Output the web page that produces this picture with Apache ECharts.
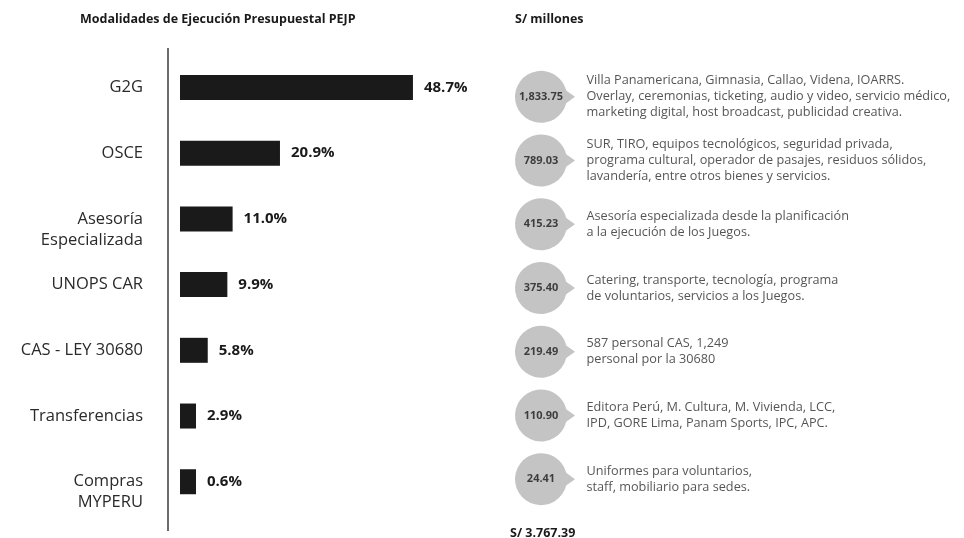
<!DOCTYPE html>
<html>
<head>
<meta charset="utf-8">
<script src="https://cdn.jsdelivr.net/npm/echarts@6/dist/echarts.min.js"></script>
<style>
  html, body { margin: 0; padding: 0; background: #fff; }
  #chart { width: 964px; height: 538px; }
</style>
</head>
<body>
<div id="chart"></div>
<script>
// values
const categories = ['G2G', 'OSCE', 'Asesoría\nEspecializada', 'UNOPS CAR', 'CAS - LEY 30680', 'Transferencias', 'Compras\nMYPERU']
const shares = [48.7, 20.9, 11.0, 9.9, 5.8, 2.9, 0.6]
const amounts = [1833.75, 789.03, 415.23, 375.40, 219.49, 110.90, 24.41]
const details = [
  'Villa Panamericana, Gimnasia, Callao, Videna, IOARRS.\nOverlay, ceremonias, ticketing, audio y video, servicio médico,\nmarketing digital, host broadcast, publicidad creativa.',
  'SUR, TIRO, equipos tecnológicos, seguridad privada,\nprograma cultural, operador de pasajes, residuos sólidos,\nlavandería, entre otros bienes y servicios.',
  'Asesoría especializada desde la planificación\na la ejecución de los Juegos.',
  'Catering, transporte, tecnología, programa\nde voluntarios, servicios a los Juegos.',
  '587 personal CAS, 1,249\npersonal por la 30680',
  'Editora Perú, M. Cultura, M. Vivienda, LCC,\nIPD, GORE Lima, Panam Sports, IPC, APC.',
  'Uniformes para voluntarios,\nstaff, mobiliario para sedes.'
]
const leftTitle = 'Modalidades de Ejecución Presupuestal PEJP'
const rightTitle = 'S/ millones'
const totalLabel = 'S/ 3.767.39'

const FONT = '"Open Sans", "Noto Sans", sans-serif'
const fmt = (v) => v.toLocaleString('en-US', { minimumFractionDigits: 2, maximumFractionDigits: 2 })

// circle with a small pointer on the right
const bubble = 'path://M25.2,-6.3 L34,0 L25.2,6.3 A26,26 0 1,1 25.2,-6.3 Z'

const headStyle = { fontSize: 12.5, fontWeight: 'bold', color: '#1a1a1a', fontFamily: FONT }

const chart = echarts.init(document.getElementById('chart'))

const option = {
  backgroundColor: '#fff',
  animation: false,
  textStyle: { fontFamily: FONT },
  title: [
    { text: leftTitle, left: 80, top: 13, padding: 0, textStyle: headStyle },
    { text: rightTitle, left: 515, top: 13, padding: 0, textStyle: headStyle },
    { text: totalLabel, left: 510, top: 527, padding: 0, textStyle: headStyle }
  ],
  grid: [
    { left: 180, top: 54.6, height: 460, width: 287 },
    { left: 541, top: 65, height: 446, width: 20 }
  ],
  xAxis: [
    { gridIndex: 0, type: 'value', min: 0, max: 60, show: false },
    { gridIndex: 1, type: 'value', min: 0, max: 1, show: false }
  ],
  yAxis: [
    {
      gridIndex: 0,
      type: 'category',
      data: categories,
      inverse: true,
      axisLine: { show: false },
      axisTick: { show: false },
      splitLine: { show: false },
      axisLabel: {
        margin: 37,
        fontSize: 16.5,
        lineHeight: 21,
        color: '#2a2a2a',
        align: 'right',
        formatter: (v) => (v.indexOf('\n') >= 0 ? '\n' + v : v)
      }
    },
    { gridIndex: 1, type: 'category', data: categories, inverse: true, show: false }
  ],
  graphic: [
    {
      type: 'line',
      shape: { x1: 168, y1: 48, x2: 168, y2: 531 },
      style: { stroke: '#3a3a3a', lineWidth: 1.5 }
    }
  ],
  series: [
    {
      type: 'bar',
      xAxisIndex: 0,
      yAxisIndex: 0,
      data: shares,
      barWidth: 25,
      barMinHeight: 16,
      itemStyle: { color: '#1a1a1a' },
      label: {
        show: true,
        position: 'right',
        distance: 11,
        fontSize: 15,
        fontWeight: 'bold',
        color: '#1a1a1a',
        formatter: (p) => p.value.toFixed(1) + '%'
      }
    },
    {
      type: 'scatter',
      xAxisIndex: 1,
      yAxisIndex: 1,
      symbol: bubble,
      symbolSize: [60, 52],
      symbolOffset: [4, 0],
      itemStyle: { color: '#b5b5b5' },
      data: amounts.map((v, i) => [0, categories[i]]),
      silent: true
    },
    {
      type: 'scatter',
      xAxisIndex: 1,
      yAxisIndex: 1,
      symbolSize: 1,
      itemStyle: { color: 'transparent' },
      data: amounts.map((v, i) => [0, categories[i], v]),
      label: {
        show: true,
        position: 'inside',
        fontSize: 11,
        fontWeight: 'bold',
        color: '#1a1a1a',
        formatter: (p) => fmt(p.value[2])
      }
    },
    {
      type: 'scatter',
      xAxisIndex: 1,
      yAxisIndex: 1,
      symbolSize: 1,
      itemStyle: { color: 'transparent' },
      data: details.map((d, i) => [0, categories[i], d]),
      label: {
        show: true,
        position: 'right',
        distance: 45,
        fontSize: 12.7,
        lineHeight: 16,
        color: '#2a2a2a',
        align: 'left',
        formatter: (p) => p.value[2]
      }
    }
  ]
}

chart.setOption(option)
window.onresize = () => chart.resize()
</script>
</body>
</html>
